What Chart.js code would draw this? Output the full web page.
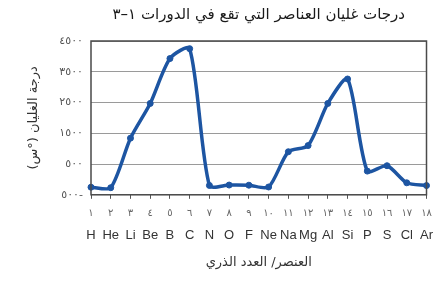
<!DOCTYPE html>
<html>
<head>
<meta charset="utf-8">
<script src="https://cdn.jsdelivr.net/npm/chart.js@4"></script>
<style>
  html, body { margin: 0; padding: 0; background: #fff; }
  #wrap { width: 442px; height: 297px; }
</style>
</head>
<body>
<div id="wrap"><canvas id="grafico" width="442" height="297"></canvas></div>
<script>
// dados
const simbolos = ["H", "He", "Li", "Be", "B", "C", "N", "O", "F", "Ne", "Na", "Mg", "Al", "Si", "P", "S", "Cl", "Ar"];
const numeros = ["١", "٢", "٣", "٤", "٥", "٦", "٧", "٨", "٩", "١٠", "١١", "١٢", "١٣", "١٤", "١٥", "١٦", "١٧", "١٨"];
const ebulicao = [-253, -269, 1342, 2470, 3930, 4250, -196, -183, -188, -246, 900, 1100, 2470, 3265, 270, 445, -110, -200];
const rotulosY = { "-500": "٥٠٠-", "500": "٥٠٠", "1500": "١٥٠٠", "2500": "٢٥٠٠", "3500": "٣٥٠٠", "4500": "٤٥٠٠" };

const titulo = "درجات غليان العناصر التي تقع في الدورات ١–٣";
const tituloX = "العنصر/ العدد الذري";
const tituloY = "درجة الغليان (°س)";

const arabe = "'DejaVu Sans', sans-serif";

// moldura em volta da área do gráfico
const moldura = {
  id: "moldura",
  afterDatasetsDraw(chart) {
    const a = chart.chartArea;
    const c = chart.ctx;
    c.save();
    c.strokeStyle = "#4a4a4a";
    c.lineWidth = 1.5;
    c.strokeRect(a.left, a.top, a.right - a.left, a.bottom - a.top);
    c.restore();
  }
};

const ctx = document.getElementById("grafico");
new Chart(ctx, {
  type: "line",
  data: {
    labels: simbolos,
    datasets: [{
      data: ebulicao,
      borderColor: "#1d55a2",
      backgroundColor: "#1d55a2",
      borderWidth: 3.5,
      tension: 0.25,
      pointRadius: 3,
      pointBorderWidth: 1,
      pointHoverRadius: 3,
      fill: false
    }]
  },
  options: {
    responsive: false,
    animation: false,
    layout: { padding: { top: 6, right: 11, left: 0, bottom: 27 } },
    plugins: {
      legend: { display: false },
      tooltip: { enabled: false },
      title: {
        display: true,
        text: titulo,
        fullSize: false,
        color: "#1a1a1a",
        font: { family: arabe, size: 15, weight: "normal" },
        padding: { top: 0, bottom: 17 }
      }
    },
    scales: {
      y: {
        min: -500,
        max: 4500,
        ticks: {
          stepSize: 1000,
          color: "#555",
          padding: 8,
          font: { family: arabe, size: 11 },
          callback: v => rotulosY[String(v)] || ""
        },
        grid: { color: "#9a9a9a", lineWidth: 1, drawTicks: false },
        border: { display: false },
        title: {
          display: true,
          text: tituloY,
          color: "#333",
          font: { family: arabe, size: 13 },
          padding: { top: 26, bottom: 0 }
        },
        afterFit: s => { s.width = 91; }
      },
      x: {
        type: "category",
        labels: numeros,
        offset: false,
        weight: 0,
        ticks: {
          color: "#666",
          padding: 9,
          autoSkip: false,
          maxRotation: 0,
          font: { family: arabe, size: 10 }
        },
        grid: { drawOnChartArea: false, drawTicks: true, tickLength: 4, color: "#555" },
        border: { display: false },
        afterFit: s => { s.height = 24; }
      },
      x2: {
        type: "category",
        position: "bottom",
        labels: simbolos,
        offset: false,
        weight: 1,
        ticks: {
          color: "#333",
          padding: 9,
          autoSkip: false,
          maxRotation: 0,
          font: { family: "'Liberation Sans', Arial, sans-serif", size: 13 }
        },
        grid: { display: false, drawTicks: false },
        border: { display: false },
        title: {
          display: true,
          text: tituloX,
          color: "#333",
          font: { family: arabe, size: 13 },
          padding: { top: 2, bottom: 0 }
        }
      }
    }
  },
  plugins: [moldura]
});
</script>
</body>
</html>
